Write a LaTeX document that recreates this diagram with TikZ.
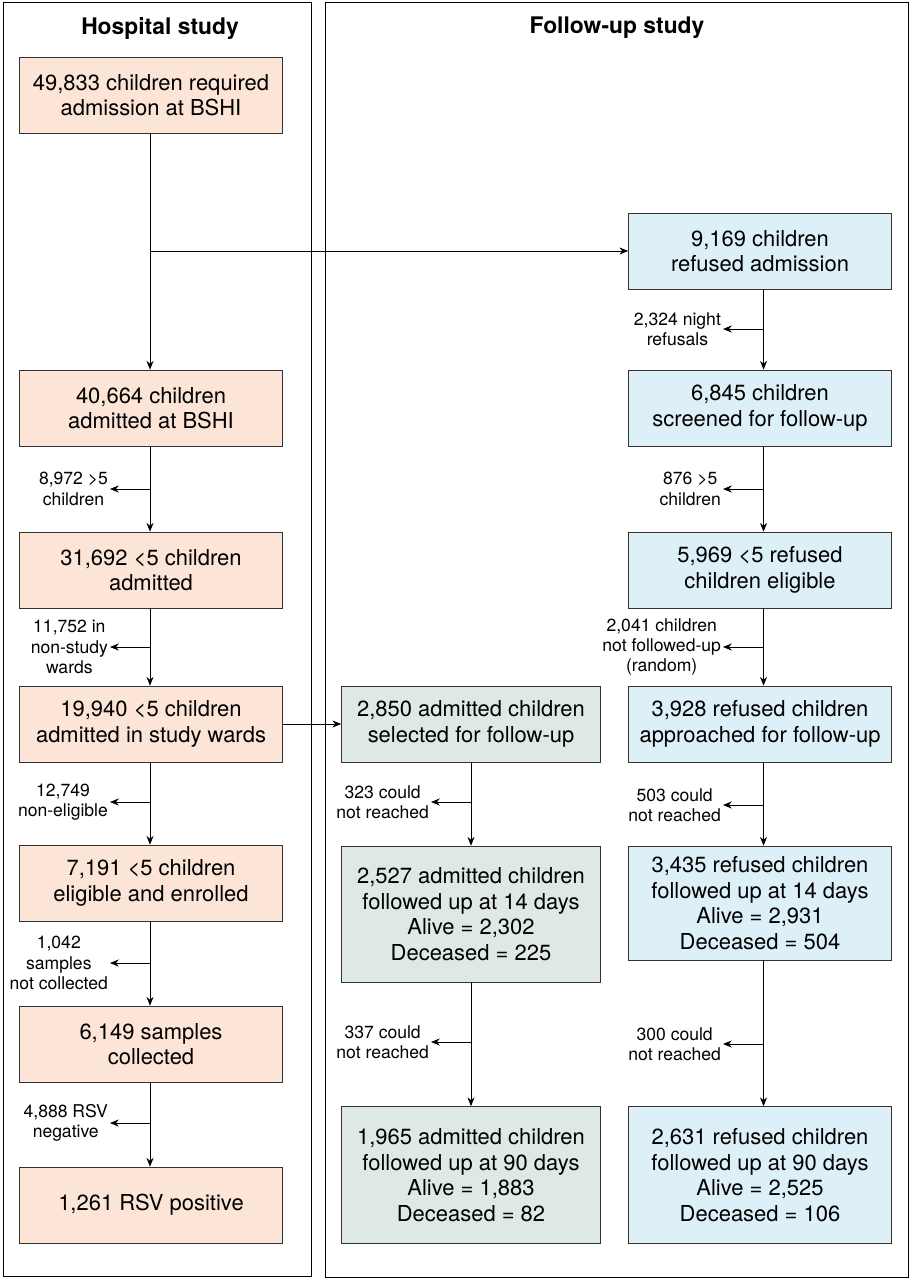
\documentclass[tikz,border=0pt]{standalone}
\usepackage{fontspec}
\setmainfont{TeX Gyre Heros}
\usetikzlibrary{arrows.meta}
\definecolor{hosp}{HTML}{FCE4D6}
\definecolor{refu}{HTML}{DDF0F7}
\definecolor{admi}{HTML}{DDE9E2}
\begin{document}
\begin{tikzpicture}[x=0.02cm,y=-0.02cm]
	\tikzset{box/.style={draw=black!80, thin, minimum width=5.26cm, minimum height=1.52cm, align=center, font=\fontsize{12.5}{14.5}\selectfont, inner sep=2pt},
		hbox/.style={box, fill=hosp},
		rbox/.style={box, fill=refu},
		abox/.style={box, fill=admi, minimum width=5.18cm},
		side/.style={anchor=east, align=center, font=\fontsize{10}{11.5}\selectfont, inner sep=1pt},
		arr/.style={-{Stealth[length=5pt,width=4pt]}, thin}}
	\useasboundingbox (0,0) rectangle (912,1280);
	\draw[thin] (3,2) rectangle (311,1276);
	\draw[thin] (325,2) rectangle (908,1277);
	\node[font=\fontsize{13}{15}\selectfont\bfseries] (thosp) at (160,28) {Hospital study};
	\node[font=\fontsize{13}{15}\selectfont\bfseries] (tfoll) at (617,28) {Follow-up study};

	% hospital study
	\node[hbox] (h1) at (151,95) {49,833 children required\\admission at BSHI};
	\node[hbox] (h2) at (151,408) {40,664 children\\admitted at BSHI};
	\node[hbox] (h3) at (151,570) {31,692 <5 children\\admitted};
	\node[hbox] (h4) at (151,724) {19,940 <5 children\\admitted in study wards};
	\node[hbox] (h5) at (151,883) {7,191 <5 children\\eligible and enrolled};
	\node[hbox] (h6) at (151,1044) {6,149 samples\\collected};
	\node[hbox] (h7) at (151,1205) {1,261 RSV positive};

	% refused
	\node[rbox] (r1) at (760,251) {9,169 children\\refused admission};
	\node[rbox] (r2) at (760,408) {6,845 children\\screened for follow-up};
	\node[rbox] (r3) at (760,570) {5,969 <5 refused\\children eligible};
	\node[rbox] (r4) at (760,724) {3,928 refused children\\approached for follow-up};
	\node[rbox, minimum height=2.28cm] (r5) at (760,903) {3,435 refused children\\followed up at 14 days\\Alive = 2,931\\Deceased = 504};
	\node[rbox, minimum height=2.74cm] (r6) at (760,1175) {2,631 refused children\\followed up at 90 days\\Alive = 2,525\\Deceased = 106};

	% admitted
	\node[abox] (a1) at (471,724) {2,850 admitted children\\selected for follow-up};
	\node[abox, minimum height=2.72cm] (a2) at (471,914) {2,527 admitted children\\followed up at 14 days\\Alive = 2,302\\Deceased = 225};
	\node[abox, minimum height=2.74cm] (a3) at (471,1175) {1,965 admitted children\\followed up at 90 days\\Alive = 1,883\\Deceased = 82};

	% main arrows
	\coordinate (sp) at (150,251);
	\draw[arr] (h1.south -| sp) -- (h2.north -| sp);
	\draw[arr] (sp) -- (r1.west);
	\foreach \p/\q in {h2/h3, h3/h4, h4/h5, h5/h6, h6/h7}
		\draw[arr] (\p.south -| sp) -- (\q.north -| sp);
	\draw[arr] (h4.east) -- (a1.west);
	\foreach \p/\q in {r1/r2, r2/r3, r3/r4, r4/r5, r5/r6}
		\draw[arr] ([xshift=2pt]\p.south) -- ([xshift=2pt]\q.north);
	\draw[arr] (a1.south) -- (a2.north);
	\draw[arr] (a2.south) -- (a3.north);

	% exclusions
	\foreach \x/\y/\n/\t in {150/489/e1/{8,972 >5\\children}, 150/647/e2/{11,752 in\\non-study\\wards}, 150/802/e3/{12,749\\non-eligible}, 150/963/e4/{1,042\\samples\\not collected}, 150/1123/e5/{4,888 RSV\\negative},
		763/329/e6/{2,324 night\\refusals}, 763/489/e7/{876 >5\\children}, 763/647/e8/{2,041 children\\not followed-up\\(random)}, 763/805/e9/{503 could\\not reached}, 763/1044/e10/{300 could\\not reached},
		471/802/e11/{323 could\\not reached}, 471/1042/e12/{337 could\\not reached}} {
		\coordinate (\n s) at (\x,\y);
		\coordinate (\n e) at (\x-40,\y);
		\draw[arr] (\n s) -- (\n e);
		\node[side] (\n) at (\n e) {\t};
	}
\end{tikzpicture}
\end{document}
